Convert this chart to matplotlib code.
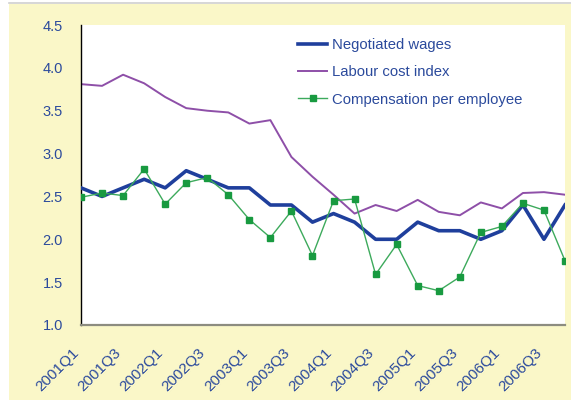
import numpy as np
import matplotlib
matplotlib.use('Agg')
import matplotlib.pyplot as plt
from matplotlib.patches import Rectangle
from matplotlib.lines import Line2D
from matplotlib.transforms import ScaledTranslation

plt.rcParams['font.family'] = ['Liberation Sans', 'DejaVu Sans']

########################## data ##########################
quarters = [f'{y}Q{q}' for y in range(2001, 2007) for q in range(1, 5)]

negotiated_wages = [2.6, 2.5, 2.6, 2.7, 2.6, 2.8, 2.7, 2.6, 2.6, 2.4, 2.4, 2.2,
                    2.3, 2.2, 2.0, 2.0, 2.2, 2.1, 2.1, 2.0, 2.1, 2.4, 2.0, 2.4]
labour_cost_index = [3.81, 3.79, 3.92, 3.82, 3.66, 3.53, 3.50, 3.48, 3.35, 3.39, 2.96, 2.73,
                     2.52, 2.30, 2.40, 2.33, 2.46, 2.32, 2.28, 2.43, 2.36, 2.54, 2.55, 2.52]
compensation = [2.49, 2.54, 2.51, 2.82, 2.41, 2.66, 2.72, 2.52, 2.23, 2.02, 2.33, 1.81,
                2.45, 2.47, 1.59, 1.94, 1.46, 1.40, 1.56, 2.08, 2.15, 2.42, 2.34, 1.75]

######################### plotting #########################
txt = '#2B4A9C'
fig = plt.figure(figsize=(5.71, 4.0), dpi=100, facecolor='white')
# yellow panel behind everything
fig.add_artist(Rectangle((9 / 571, 0), 1, 396 / 400, transform=fig.transFigure,
                         facecolor='#FAF7C8', edgecolor='none', zorder=-10))
fig.add_artist(Line2D([9 / 571, 1], [397 / 400, 397 / 400], transform=fig.transFigure,
                      color='#D0D0D0', lw=1.2, zorder=-9))

ax = fig.add_axes([81 / 571, 75 / 400, 484 / 571, 300 / 400])
ax.set_facecolor('white')

x = np.arange(len(quarters))
ax.plot(x, negotiated_wages, color='#1F3F9C', lw=2.6, label='Negotiated wages', zorder=3)
ax.plot(x, labour_cost_index, color='#8E4FA8', lw=1.4, label='Labour cost index', zorder=2)
ax.plot(x, compensation, color='#3DAA5C', lw=1.0, marker='s', markersize=5,
        markerfacecolor='#189A40', markeredgecolor='#189A40',
        label='Compensation per employee', zorder=4)

ax.set_xlim(0, len(quarters) - 1)
ax.set_ylim(1.0, 4.5)
ax.set_yticks(np.arange(1.0, 4.51, 0.5))
ax.set_yticklabels([f'{v:.1f}' for v in np.arange(1.0, 4.51, 0.5)])
ax.set_xticks(x[::2])
ax.set_xticklabels(quarters[::2], rotation=45, ha='right', rotation_mode='anchor')

ax.tick_params(axis='both', length=0, colors=txt)
ax.tick_params(axis='y', pad=13, labelsize=10.5)
ax.tick_params(axis='x', pad=15, labelsize=11)
# shift the slanted labels a little left, like the original
shift = ScaledTranslation(-9 / 100, 0, fig.dpi_scale_trans)
for lab in ax.get_xticklabels():
    lab.set_transform(lab.get_transform() + shift)

for s in ['top', 'right']:
    ax.spines[s].set_visible(False)
ax.spines['left'].set_color('black')
ax.spines['left'].set_linewidth(1.0)
ax.spines['bottom'].set_color('#8C8C80')
ax.spines['bottom'].set_linewidth(1.6)

leg = ax.legend(loc='upper left', bbox_to_anchor=(0.42, 1.0), frameon=False,
                fontsize=10.7, handlelength=2.0, handletextpad=0.3, labelspacing=0.88)
for t in leg.get_texts():
    t.set_color(txt)

fig.savefig('out.png', dpi=100, facecolor=fig.get_facecolor())
